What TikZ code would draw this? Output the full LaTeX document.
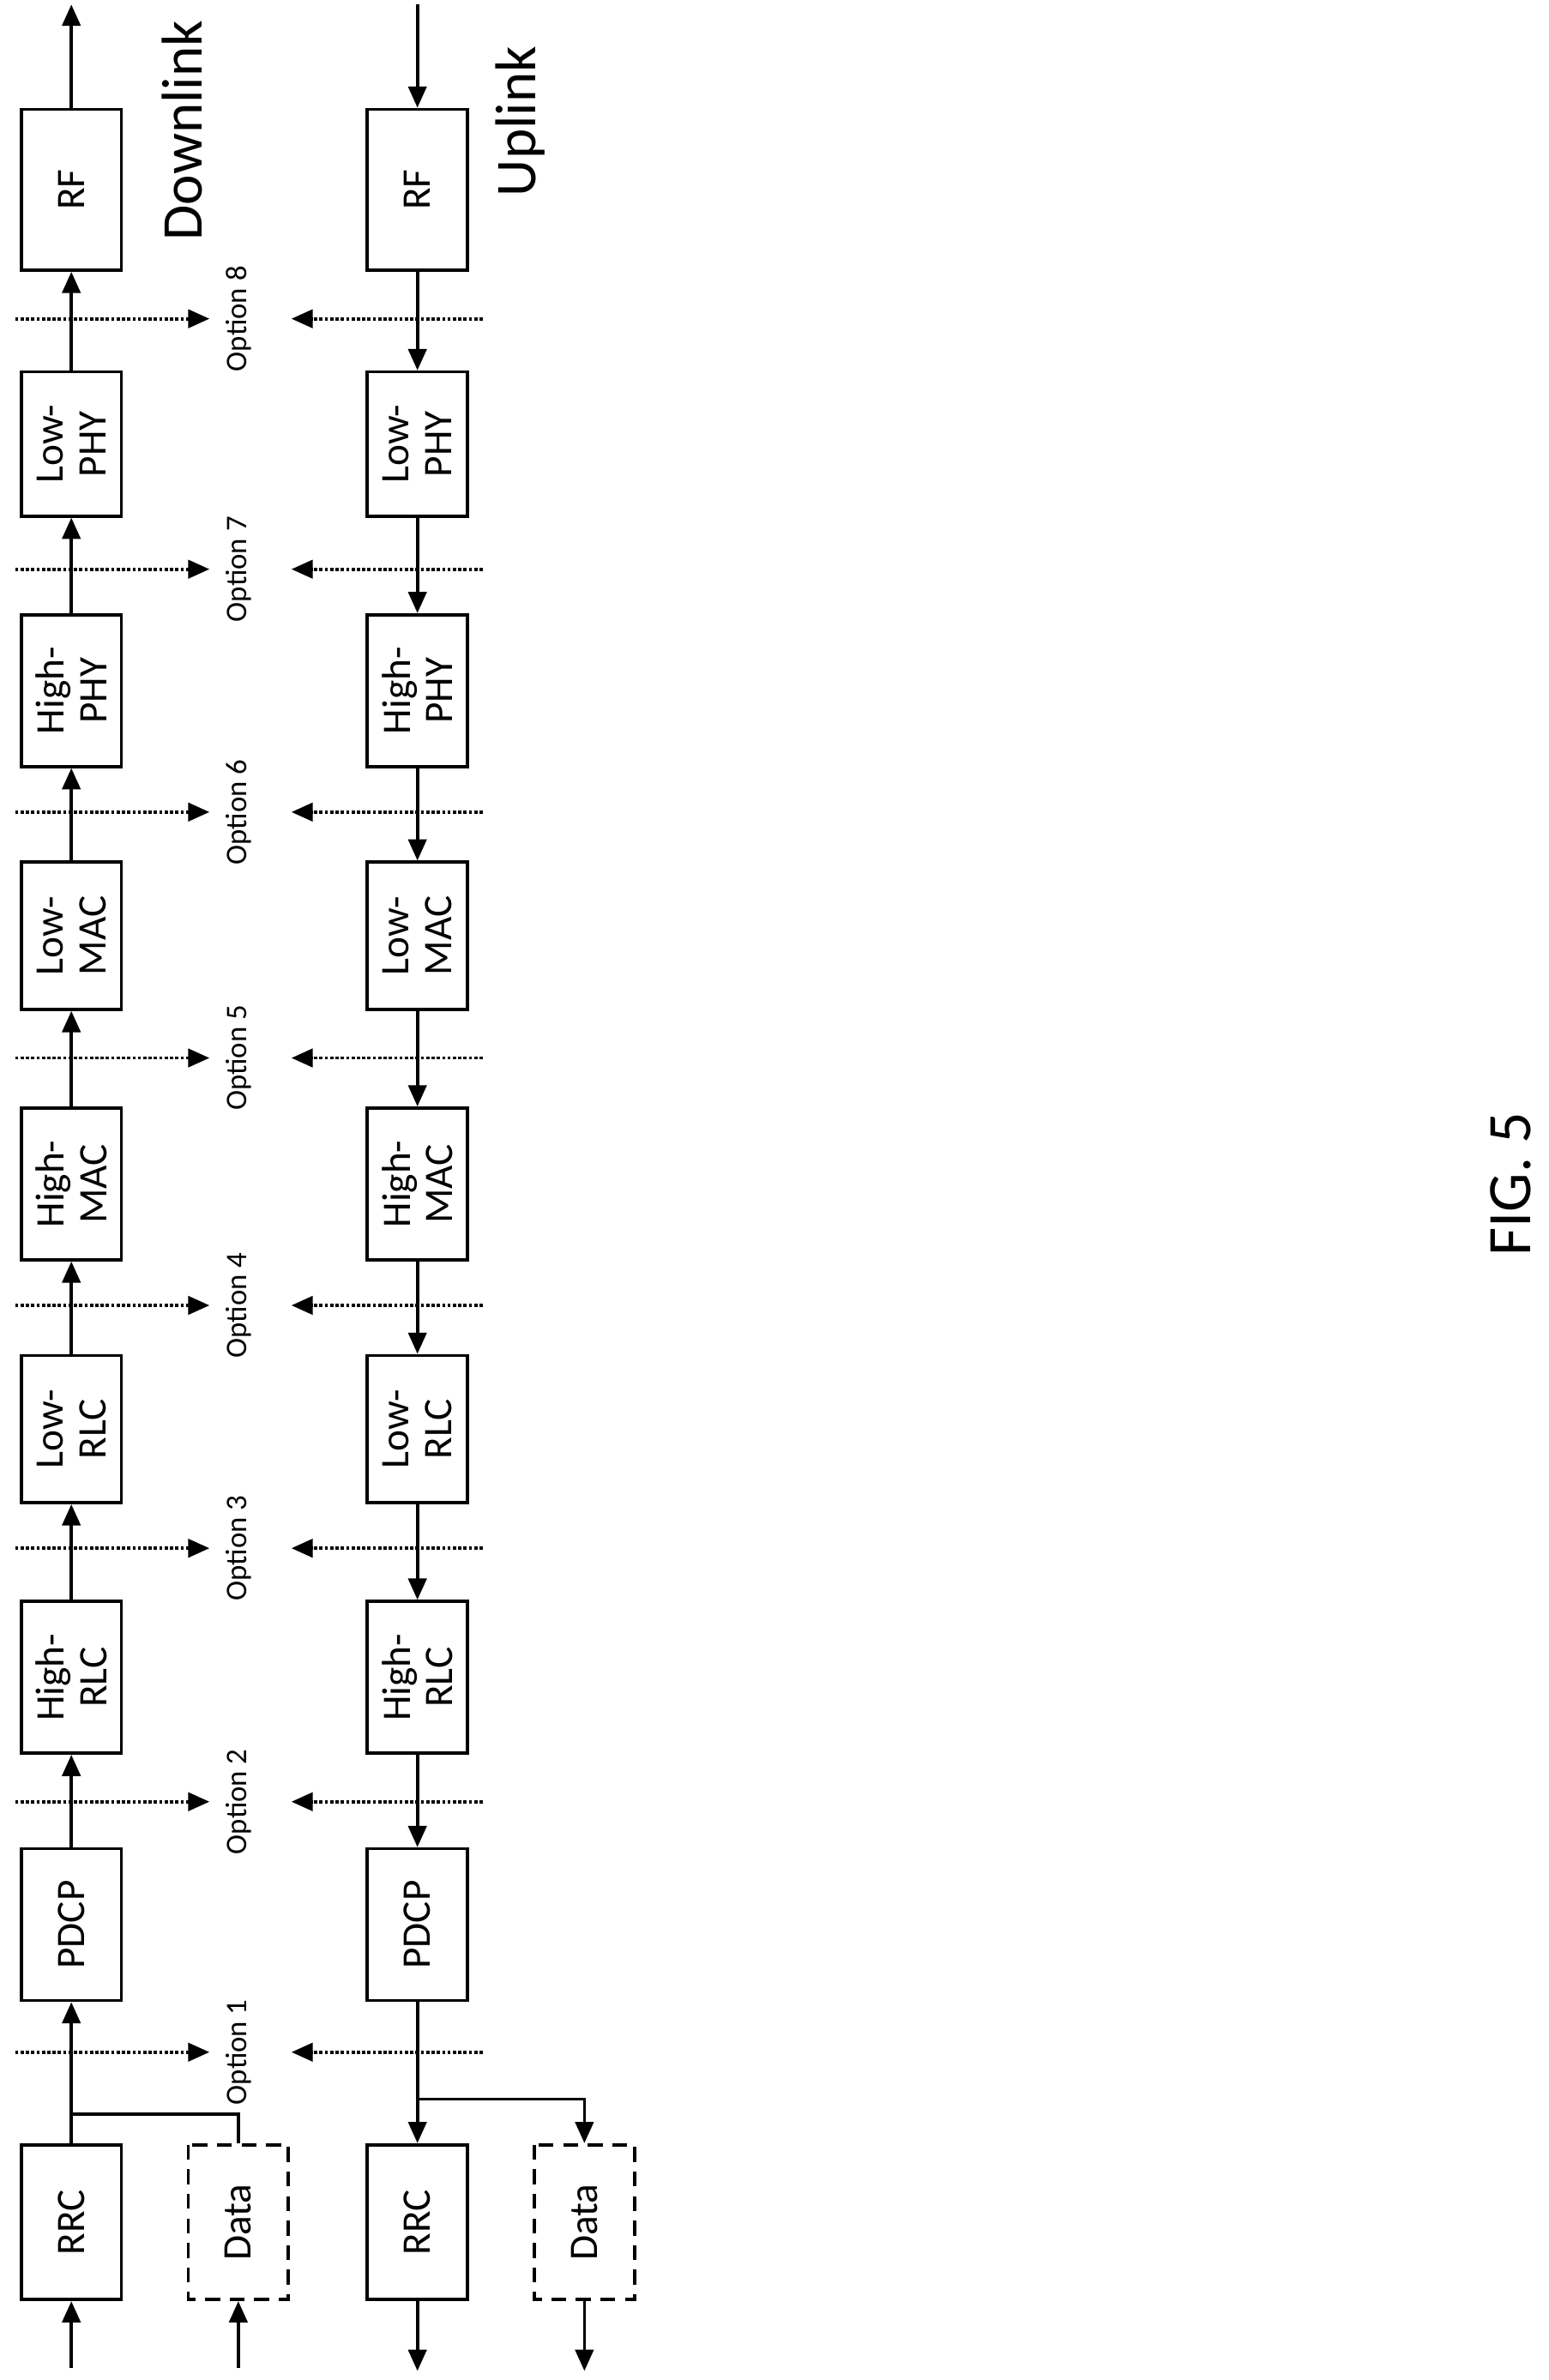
\documentclass[tikz,border=0pt]{standalone}
\usepackage{fontspec}
\setmainfont{Carlito}
\usetikzlibrary{arrows.meta}
\begin{document}
\begin{tikzpicture}[x=0.05cm,y=-0.05cm,
  blk/.style={draw,line width=3pt,minimum width=3.3cm,align=center,font=\fontsize{38}{40}\selectfont,rotate=90,inner sep=0pt},
  dblk/.style={blk,dash pattern=on 14pt off 9pt},
  fl/.style={line width=3pt,-{Triangle[length=0.7cm,width=0.6cm]}},
  dl/.style={line width=3pt,dotted,-{Triangle[length=0.7cm,width=0.6cm]}},
  opt/.style={font=\fontsize{28}{30}\selectfont,rotate=90}]
\useasboundingbox (0,0) rectangle (1020,1568);
\foreach \n/\t/\ya/\yb in {dRF/RF/72/178,dLP/Low-\\PHY/245/340,dHP/High-\\PHY/405/505,dLM/Low-\\MAC/568/665,dHM/High-\\MAC/730/830,dLR/Low-\\RLC/893/990,dHR/High-\\RLC/1055/1155,dPD/PDCP/1218/1318,dRR/RRC/1413/1515}{
  \node[blk,minimum height=3.3cm,minimum width={(\yb-\ya)*0.05cm}] (\n) at (47,{(\ya+\yb)/2}) {\t};}
\foreach \n/\t/\ya/\yb in {uRF/RF/72/178,uLP/Low-\\PHY/245/340,uHP/High-\\PHY/405/505,uLM/Low-\\MAC/568/665,uHM/High-\\MAC/730/830,uLR/Low-\\RLC/893/990,uHR/High-\\RLC/1055/1155,uPD/PDCP/1218/1318,uRR/RRC/1413/1515}{
  \node[blk,minimum height=3.3cm,minimum width={(\yb-\ya)*0.05cm}] (\n) at (275,{(\ya+\yb)/2}) {\t};}
\node[dblk,minimum height=3.3cm,minimum width=5.1cm] (dDA) at (157,1464) {Data};
\node[dblk,minimum height=3.3cm,minimum width=5.1cm] (uDA) at (385,1464) {Data};
\coordinate (dIn) at (47,1560);
\coordinate (dDin) at (157,1560);
\coordinate (dOut) at (47,3);
\draw[fl] (dIn) -- (dRR.west);
\draw[fl] (dDin) -- (dDA.west);
\draw[fl] (dRR.east) -- (dPD.west);
\draw[line width=3pt] (dDA.east) -- (157,1393) -- (47,1393);
\foreach \a/\b in {dPD/dHR,dHR/dLR,dLR/dHM,dHM/dLM,dLM/dHP,dHP/dLP,dLP/dRF}{\draw[fl] (\a.east) -- (\b.west);}
\draw[fl] (dRF.east) -- (dOut);
\coordinate (uIn) at (275,3);
\coordinate (uOut) at (275,1562);
\coordinate (uDout) at (385,1562);
\draw[fl] (uIn) -- (uRF.east);
\foreach \a/\b in {uRF/uLP,uLP/uHP,uHP/uLM,uLM/uHM,uHM/uLR,uLR/uHR,uHR/uPD,uPD/uRR}{\draw[fl] (\a.west) -- (\b.east);}
\draw[fl] (275,1383) -- (385,1383) -- (uDA.east);
\draw[fl] (uRR.west) -- (uOut);
\draw[fl] (uDA.west) -- (uDout);
\foreach \i/\y in {8/210,7/375,6/535,5/697,4/860,3/1020,2/1187,1/1352}{
  \coordinate (a\i) at (10,\y); \coordinate (b\i) at (138,\y);
  \coordinate (c\i) at (318,\y); \coordinate (e\i) at (192,\y);
  \draw[dl] (a\i) -- (b\i);
  \draw[dl] (c\i) -- (e\i);
  \node[opt] (o\i) at (157,\y) {Option \i};}
\node[rotate=90,font=\fontsize{54}{60}\selectfont] (dlab) at (120,86) {Downlink};
\node[rotate=90,font=\fontsize{54}{60}\selectfont] (ulab) at (343,80) {Uplink};
\node[rotate=90,font=\fontsize{58}{60}\selectfont] (fig) at (995,780) {FIG. 5};
\end{tikzpicture}
\end{document}
